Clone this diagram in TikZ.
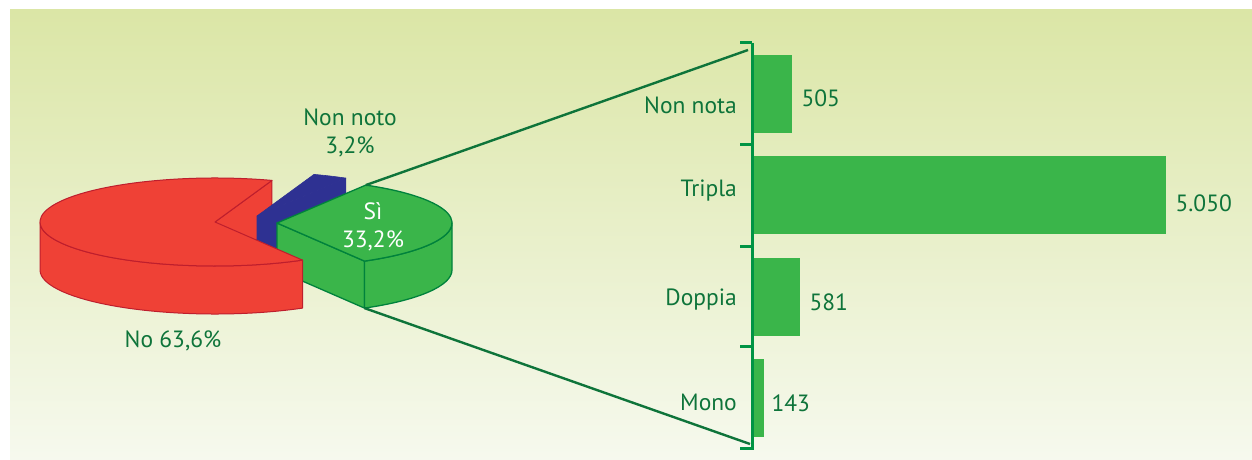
\documentclass[tikz,border=0pt]{standalone}
\usepackage{fontspec}
\setmainfont{PT Sans}
\usepackage{xcolor}
\usetikzlibrary{calc,positioning}

\definecolor{noRed}{RGB}{239,65,54}
\definecolor{noRedEdge}{RGB}{190,30,45}
\definecolor{nnBlue}{RGB}{46,49,146}
\definecolor{siGreen}{RGB}{58,181,74}
\definecolor{siGreenEdge}{RGB}{0,130,60}
\definecolor{txtGreen}{RGB}{14,116,58}
\definecolor{axGreen}{RGB}{0,148,68}
\definecolor{bgTop}{RGB}{219,230,166}
\definecolor{bgMid}{RGB}{226,235,181}
\definecolor{bgBot}{RGB}{246,249,238}

\begin{document}
\begin{tikzpicture}[x=1pt, y=1pt, line join=round]
        \tikzset{
                basic/.style    = {font=\fontsize{23.5}{28}\selectfont, inner sep=0pt},
                catlbl/.style   = {basic, text=txtGreen, anchor=base east},
                vallbl/.style   = {basic, text=txtGreen},
                pielbl/.style   = {basic, align=center, anchor=base},
                barbox/.style   = {fill=siGreen, minimum height=78pt, inner sep=0pt, anchor=west},
                pie/.style      = {x radius=175pt, y radius=44pt},
                redface/.style  = {pie, fill=noRed, draw=noRedEdge, line width=1pt},
                blueface/.style = {pie, fill=nnBlue, draw=nnBlue, line width=0.6pt},
                greenface/.style= {pie, fill=siGreen, draw=siGreenEdge, line width=1.3pt},
                zoomline/.style = {draw=txtGreen, line width=2.4pt},
                axline/.style   = {draw=axGreen, line width=3pt}
        }
        % background panel
        \useasboundingbox (0,0) rectangle (1252,-460);
        \shade[top color=bgTop, middle color=bgMid, bottom color=bgBot] (10,-10) rectangle (1252,-460);

        % centres of the three exploded slices and their corners
        \coordinate (cNo) at (215,-222);
        \coordinate (cNn) at (257,-216);
        \coordinate (cSi) at (277,-223);
        \path (cNo) ++(71:175pt and 44pt) coordinate (no1);
        \path (cNn) ++(59.5:175pt and 44pt) coordinate (nn1);
        \path (cSi) ++(-60:175pt and 44pt) coordinate (si1);
        \path (cSi) ++(59.5:175pt and 44pt) coordinate (si2);
        \path (si1) ++(0,-47) coordinate (si1b);

        % No: cut face, lies behind the Non noto slice
        \filldraw[redface] (cNo) -- (no1) -- ++(0,-48) -- ($(cNo)+(0,-48)$) -- cycle;
        % Non noto
        \filldraw[blueface] (cNn) -- (nn1) -- ++(0,-47) -- ($(cNn)+(0,-47)$) -- cycle;
        \filldraw[blueface] (cNn) -- (nn1) arc[start angle=59.5, end angle=71] -- cycle;
        % Si
        \filldraw[greenface] (cSi) -- (si1) -- (si1b) -- ($(cSi)+(0,-47)$) -- cycle;
        \filldraw[greenface] (si1) arc[start angle=-60, end angle=0] -- ++(0,-47)
                arc[start angle=0, end angle=-60] -- cycle;
        \filldraw[greenface] (cSi) -- (si1) arc[start angle=-60, end angle=59.5] -- cycle;
        % No: outer wall and top
        \filldraw[redface] ($(cNo)+(-175,0)$) arc[start angle=180, end angle=300] -- ++(0,-48)
                arc[start angle=300, end angle=180] -- cycle;
        \filldraw[redface] (cNo) -- (no1) arc[start angle=71, end angle=300] -- cycle;

        % bars, one per row
        \foreach \w [count=\i] in {40,414,48,12}
                \node[barbox, minimum width=\w pt] (b\i) at (752,{-94-(\i-1)*101.3}) {};

        % axis with its ticks
        \coordinate (axTop) at (752,-43);
        \coordinate (axBot) at (752,-449.5);
        \draw[axline] (axTop) -- (axBot);
        \foreach \y in {43,144.5,246,346.5,448}
                \draw[axline] (740,-\y) -- (752,-\y);

        % lines from the Si slice to the bar chart
        \coordinate (zTop) at (748,-50);
        \coordinate (zBot) at (750,-444);
        \draw[zoomline] (si2) -- (zTop);
        \draw[zoomline] (si1b) -- (zBot);

        % pie labels (base = last line)
        \node[pielbl, text=txtGreen] (lNn) at (350,-153) {Non noto\\3,2\%};
        \node[pielbl, text=white] (lSi) at (373,-247) {Sì\\33,2\%};
        \node[pielbl, text=txtGreen] (lNo) at (173,-347) {No 63,6\%};

        % category names
        \node[catlbl] (cat1) at (737,-113) {Non nota};
        \node[catlbl] (cat2) at (737,-196) {Tripla};
        \node[catlbl] (cat3) at (737,-305) {Doppia};
        \node[catlbl] (cat4) at (737,-410) {Mono};

        % values
        \node[vallbl, right=9pt of b1, yshift=-4pt] (v1) {505};
        \node[vallbl, right=9pt of b2, yshift=-8pt] (v2) {5.050};
        \node[vallbl, right=9pt of b3, yshift=-5.5pt] (v3) {581};
        \node[vallbl, right=7pt of b4, yshift=-5pt] (v4) {143};
\end{tikzpicture}
\end{document}
